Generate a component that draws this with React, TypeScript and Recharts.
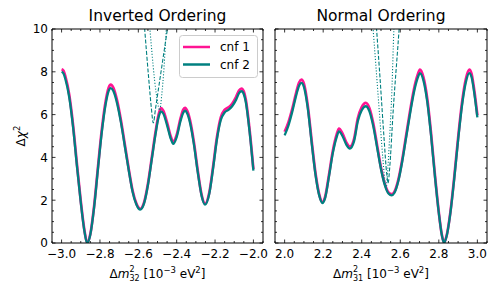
import React from "react";
import { LineChart, Line, XAxis, YAxis } from "recharts";

// Inverted ordering panel: Δm²32 grid and Δχ² for both configurations
const ioDm = [
  -3.0, -2.99, -2.98, -2.96, -2.94, -2.92, -2.9, -2.88, -2.867, -2.85, -2.83, -2.81, -2.79, -2.77,
  -2.755, -2.744, -2.73, -2.71, -2.69, -2.67, -2.65, -2.63, -2.61, -2.59, -2.57, -2.55, -2.53, -2.51,
  -2.495, -2.482, -2.47, -2.45, -2.43, -2.418, -2.4, -2.38, -2.365, -2.356, -2.345, -2.33, -2.31,
  -2.29, -2.27, -2.252, -2.23, -2.21, -2.19, -2.17, -2.15, -2.13, -2.11, -2.09, -2.075, -2.062,
  -2.05, -2.04, -2.02, -2.0,
];
const ioCnf1 = [
  8.12, 8.05, 7.78, 6.92, 5.5, 3.68, 1.96, 0.54, 0.02, 0.43, 1.76, 3.58, 5.32, 6.64,
  7.25, 7.4, 7.25, 6.63, 5.7, 4.58, 3.46, 2.45, 1.84, 1.6, 1.9, 2.76, 3.97, 5.2,
  5.97, 6.3, 6.18, 5.62, 4.95, 4.73, 5.05, 5.82, 6.24, 6.32, 6.18, 5.72, 4.7,
  3.37, 2.25, 1.84, 2.36, 3.58, 4.95, 5.87, 6.22, 6.34, 6.52, 6.83, 7.13, 7.22,
  7.08, 6.72, 5.3, 3.45,
];
const ioCnf2 = [
  8.0, 7.92, 7.65, 6.8, 5.4, 3.6, 1.9, 0.5, 0.0, 0.4, 1.7, 3.5, 5.2, 6.5,
  7.1, 7.24, 7.1, 6.5, 5.6, 4.5, 3.4, 2.4, 1.8, 1.56, 1.85, 2.7, 3.9, 5.1,
  5.85, 6.15, 6.05, 5.5, 4.85, 4.63, 4.95, 5.7, 6.1, 6.18, 6.05, 5.6, 4.6,
  3.3, 2.2, 1.79, 2.3, 3.5, 4.85, 5.75, 6.1, 6.22, 6.4, 6.7, 7.0, 7.09,
  6.95, 6.6, 5.2, 3.38,
];
const ioDashDm = [-2.572, -2.558, -2.545, -2.532, -2.522, -2.51, -2.495, -2.475, -2.455, -2.44];
const ioDashChi = [10.6, 9.0, 7.6, 6.3, 5.61, 6.3, 7.2, 8.4, 9.6, 10.5];
const ioDotDm = [-2.545, -2.53, -2.515, -2.5, -2.489, -2.478, -2.466, -2.454, -2.448];
const ioDotChi = [10.6, 9.0, 7.6, 6.6, 6.2, 6.9, 8.2, 10.0, 10.7];

// Normal ordering panel: Δm²31 grid and Δχ²
const noDm = [
  2.0, 2.02, 2.04, 2.06, 2.075, 2.087, 2.1, 2.12, 2.14, 2.16, 2.18, 2.196, 2.21, 2.23, 2.25,
  2.27, 2.282, 2.3, 2.32, 2.338, 2.36, 2.38, 2.4, 2.421, 2.44, 2.46, 2.48, 2.5, 2.52, 2.54,
  2.555, 2.57, 2.59, 2.61, 2.63, 2.65, 2.67, 2.69, 2.702, 2.72, 2.74, 2.76, 2.78, 2.8,
  2.815, 2.827, 2.84, 2.86, 2.88, 2.9, 2.92, 2.94, 2.958, 2.97, 2.98, 2.99, 3.0,
];
const noCnf1 = [
  5.2, 5.65, 6.28, 7.03, 7.5, 7.63, 7.45, 6.42, 4.8, 3.27, 2.25, 1.91, 2.15, 3.18, 4.3,
  5.07, 5.35, 5.12, 4.7, 4.5, 4.86, 5.84, 6.35, 6.55, 6.3, 5.58, 4.55, 3.52, 2.76, 2.35,
  2.28, 2.4, 2.96, 3.88, 5.0, 6.12, 7.14, 7.85, 8.1, 7.75, 6.74, 5.1, 3.16, 1.43,
  0.42, 0.02, 0.32, 1.44, 3.07, 4.9, 6.53, 7.65, 8.1, 7.9, 7.38, 6.72, 5.97,
];
const noCnf2 = [
  5.03, 5.5, 6.15, 6.9, 7.35, 7.48, 7.3, 6.3, 4.7, 3.2, 2.2, 1.87, 2.1, 3.1, 4.2,
  4.95, 5.22, 5.0, 4.6, 4.41, 4.75, 5.7, 6.2, 6.39, 6.15, 5.45, 4.45, 3.45, 2.7, 2.3,
  2.23, 2.35, 2.9, 3.8, 4.9, 6.0, 7.0, 7.7, 7.94, 7.6, 6.6, 5.0, 3.1, 1.4,
  0.4, 0.0, 0.3, 1.4, 3.0, 4.8, 6.4, 7.5, 7.94, 7.75, 7.25, 6.6, 5.87,
];
const noDashDm = [2.47, 2.477, 2.495, 2.515, 2.53, 2.537, 2.545, 2.563, 2.594, 2.6];
const noDashChi = [10.9, 10.0, 7.7, 5.0, 3.2, 2.8, 3.5, 6.15, 10.0, 10.8];
const noDotDm = [2.452, 2.459, 2.47, 2.49, 2.51, 2.522, 2.527, 2.535, 2.545, 2.556, 2.567, 2.572];
const noDotChi = [10.9, 10.0, 8.7, 6.3, 3.9, 2.8, 2.6, 3.4, 5.0, 7.0, 10.0, 10.9];

const ioTicks = [-3.0, -2.8, -2.6, -2.4, -2.2, -2.0];
const noTicks = [2.0, 2.2, 2.4, 2.6, 2.8, 3.0];
const chiTicks = [0, 2, 4, 6, 8, 10];

const PINK = "#ff1493";
const TEAL = "#008080";
const FONT = "DejaVu Sans, sans-serif";

const rows = (xs: number[], ys: number[]) => xs.map((x, i) => ({ x, y: ys[i] }));

const minorTicks = (lo: number, hi: number, step: number) => {
  const out: number[] = [];
  for (let i = 0; lo + i * step <= hi + 1e-9; i++) out.push(Math.round((lo + i * step) * 1000) / 1000);
  return out;
};

const fmtX = (v: number) => v.toFixed(1).replace("-", "\u2212");

function makeTick(side: string, majors: number[], labels: boolean, fmt: (v: number) => string) {
  return (props: any) => {
    const { x, y, payload } = props;
    const v = payload.value;
    const major = majors.some((m) => Math.abs(m - v) < 1e-6);
    const len = major ? 3.5 : 2;
    let line;
    if (side === "bottom") line = <line x1={x} x2={x} y1={y} y2={y - len} />;
    else if (side === "top") line = <line x1={x} x2={x} y1={y} y2={y + len} />;
    else if (side === "left") line = <line x1={x} x2={x + len} y1={y} y2={y} />;
    else line = <line x1={x} x2={x - len} y1={y} y2={y} />;
    let label = null;
    if (labels && major) {
      if (side === "bottom")
        label = (
          <text x={x} y={y + 15} textAnchor="middle" fontSize={12} fontFamily={FONT} fill="#000">
            {fmt(v)}
          </text>
        );
      else if (side === "left")
        label = (
          <text x={x - 4} y={y + 4.3} textAnchor="end" fontSize={12} fontFamily={FONT} fill="#000">
            {fmt(v)}
          </text>
        );
    }
    return (
      <g stroke="#000" strokeWidth={0.8}>
        {line}
        {label && <g stroke="none">{label}</g>}
      </g>
    );
  };
}

interface PanelProps {
  left: number;
  width: number;
  margin: { top: number; right: number; bottom: number; left: number };
  domain: [number, number];
  majors: number[];
  cnf1: { x: number; y: number }[];
  cnf2: { x: number; y: number }[];
  dash: { x: number; y: number }[];
  dot: { x: number; y: number }[];
  yLabels: boolean;
}

function Panel({ left, width, margin, domain, majors, cnf1, cnf2, dash, dot, yLabels }: PanelProps) {
  const xMinor = minorTicks(domain[0], domain[1], 0.05);
  const yMinor = minorTicks(0, 10, 0.5);
  const axisStyle = { stroke: "#000", strokeWidth: 1 };
  return (
    <div style={{ position: "absolute", left, top: 0 }}>
      <LineChart width={width} height={293} margin={margin} style={{ overflow: "visible" }}>
        <XAxis
          xAxisId="b"
          dataKey="x"
          type="number"
          domain={domain}
          allowDataOverflow
          ticks={xMinor}
          interval={0}
          height={1}
          tickSize={0}
          tickMargin={0}
          tickLine={false}
          axisLine={axisStyle}
          tick={makeTick("bottom", majors, true, fmtX)}
        />
        <XAxis
          xAxisId="t"
          orientation="top"
          dataKey="x"
          type="number"
          domain={domain}
          allowDataOverflow
          ticks={xMinor}
          interval={0}
          height={1}
          tickSize={0}
          tickMargin={0}
          tickLine={false}
          axisLine={axisStyle}
          tick={makeTick("top", majors, false, fmtX)}
        />
        <YAxis
          yAxisId="l"
          type="number"
          domain={[0, 10]}
          allowDataOverflow
          ticks={yMinor}
          interval={0}
          width={1}
          tickSize={0}
          tickMargin={0}
          tickLine={false}
          axisLine={axisStyle}
          tick={makeTick("left", chiTicks, yLabels, (v) => String(v))}
        />
        <YAxis
          yAxisId="r"
          orientation="right"
          type="number"
          domain={[0, 10]}
          allowDataOverflow
          ticks={yMinor}
          interval={0}
          width={1}
          tickSize={0}
          tickMargin={0}
          tickLine={false}
          axisLine={axisStyle}
          tick={makeTick("right", chiTicks, false, (v) => String(v))}
        />
        <Line data={cnf1} xAxisId="b" yAxisId="l" dataKey="y" type="monotone" stroke={PINK} strokeWidth={2.7} dot={false} activeDot={false} isAnimationActive={false} />
        <Line data={cnf2} xAxisId="b" yAxisId="l" dataKey="y" type="monotone" stroke={TEAL} strokeWidth={2.3} dot={false} activeDot={false} isAnimationActive={false} />
        <Line data={dash} xAxisId="b" yAxisId="l" dataKey="y" type="monotone" stroke={TEAL} strokeWidth={1.1} strokeDasharray="4 1.8" dot={false} activeDot={false} isAnimationActive={false} />
        <Line data={dot} xAxisId="b" yAxisId="l" dataKey="y" type="monotone" stroke={TEAL} strokeWidth={1.1} strokeDasharray="1.1 1.8" dot={false} activeDot={false} isAnimationActive={false} />
      </LineChart>
    </div>
  );
}

export default function App() {
  return (
    <div style={{ position: "fixed", left: 0, top: 0, width: 497, height: 293, background: "#fff", fontFamily: FONT }}>
      <Panel
        left={0}
        width={272}
        margin={{ top: 28, right: 8, bottom: 49, left: 51 }}
        domain={[-3.05, -1.95]}
        majors={ioTicks}
        cnf1={rows(ioDm, ioCnf1)}
        cnf2={rows(ioDm, ioCnf2)}
        dash={rows(ioDashDm, ioDashChi)}
        dot={rows(ioDotDm, ioDotChi)}
        yLabels
      />
      <Panel
        left={272}
        width={225}
        margin={{ top: 28, right: 9, bottom: 49, left: 2 }}
        domain={[1.95, 3.05]}
        majors={noTicks}
        cnf1={rows(noDm, noCnf1)}
        cnf2={rows(noDm, noCnf2)}
        dash={rows(noDashDm, noDashChi)}
        dot={rows(noDotDm, noDotChi)}
        yLabels={false}
      />
      <svg width={497} height={293} style={{ position: "absolute", left: 0, top: 0, pointerEvents: "none" }} fontFamily={FONT}>
        <text x={157.5} y={21} textAnchor="middle" fontSize={15.5}>Inverted Ordering</text>
        <text x={381} y={21} textAnchor="middle" fontSize={15.5}>Normal Ordering</text>
        <text x={157.5} y={277.5} textAnchor="middle" fontSize={12}>
          Δ<tspan fontStyle="italic">m</tspan>
          <tspan fontSize={8} dy={-5.5}>2</tspan>
          <tspan fontSize={8} dx={-5.1} dy={9}>32</tspan>
          <tspan dy={-3.5}> [10</tspan>
          <tspan fontSize={8.5} dy={-5}>−3</tspan>
          <tspan dy={5}> eV</tspan>
          <tspan fontSize={8.5} dy={-5}>2</tspan>
          <tspan dy={5}>]</tspan>
        </text>
        <text x={381} y={277.5} textAnchor="middle" fontSize={12}>
          Δ<tspan fontStyle="italic">m</tspan>
          <tspan fontSize={8} dy={-5.5}>2</tspan>
          <tspan fontSize={8} dx={-5.1} dy={9}>31</tspan>
          <tspan dy={-3.5}> [10</tspan>
          <tspan fontSize={8.5} dy={-5}>−3</tspan>
          <tspan dy={5}> eV</tspan>
          <tspan fontSize={8.5} dy={-5}>2</tspan>
          <tspan dy={5}>]</tspan>
        </text>
        <text x={25} y={136} textAnchor="middle" fontSize={12} transform="rotate(-90 25 136)">
          Δ<tspan fontStyle="italic">χ</tspan>
          <tspan fontSize={8.5} dy={-5}>2</tspan>
        </text>
        <rect x={179.5} y={35.5} width={78} height={42} rx={3} fill="#fff" fillOpacity={0.85} stroke="#cccccc" strokeWidth={1} />
        <line x1={183} x2={210} y1={47} y2={47} stroke={PINK} strokeWidth={2.5} />
        <line x1={183} x2={210} y1={64.5} y2={64.5} stroke={TEAL} strokeWidth={2.5} />
        <text x={220} y={51.3} fontSize={12}>cnf 1</text>
        <text x={220} y={69.3} fontSize={12}>cnf 2</text>
      </svg>
    </div>
  );
}
